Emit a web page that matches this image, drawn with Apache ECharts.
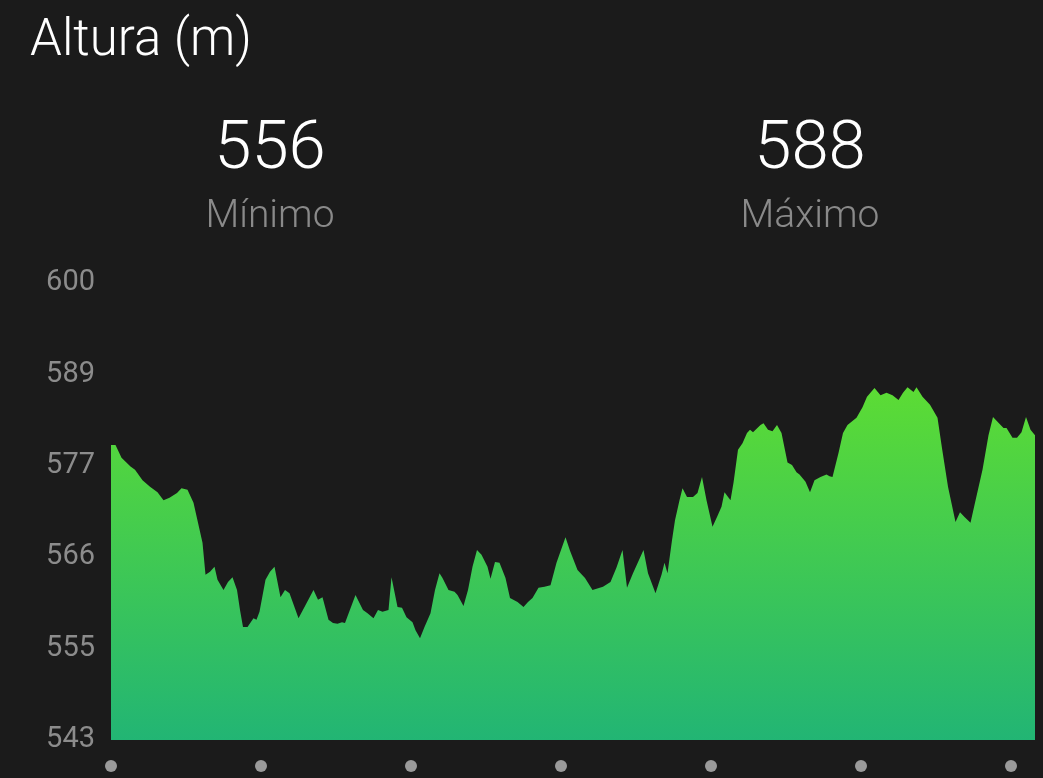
<!DOCTYPE html>
<html>
<head>
<meta charset="utf-8">
<script src="https://cdn.jsdelivr.net/npm/echarts@6/dist/echarts.min.js"></script>
<style>
html,body{margin:0;padding:0;background:#1b1b1b;}
#chart{width:1043px;height:778px;}
</style>
</head>
<body>
<div id="chart"></div>
<script>
// ---- data ----
const titleText = 'Altura (m)';
const minValue = 556;
const maxValue = 588;
const minLabel = 'Mínimo';
const maxLabel = 'Máximo';
const yTickLabels = ['543', '555', '566', '577', '589', '600'];
const yMin = 543;
const yMax = 600;
const xMax = 6.16;
// distance (km)
const distance = [
  0.00,0.03,0.07,0.13,0.16,0.21,0.26,0.31,0.35,0.39,0.44,0.47,0.51,0.55,0.58,0.61,0.63,0.66,0.69,0.71,
  0.75,0.78,0.81,0.84,0.86,0.88,0.91,0.95,0.97,0.99,1.03,1.06,1.09,1.13,1.16,1.19,1.25,1.29,1.35,1.38,
  1.41,1.45,1.48,1.51,1.54,1.56,1.63,1.68,1.71,1.75,1.78,1.81,1.85,1.87,1.91,1.94,1.97,2.01,2.03,2.06,
  2.09,2.13,2.16,2.19,2.21,2.25,2.29,2.31,2.35,2.38,2.41,2.44,2.47,2.51,2.53,2.56,2.59,2.63,2.66,2.71,
  2.75,2.78,2.81,2.85,2.89,2.93,2.97,3.03,3.06,3.11,3.16,3.21,3.28,3.33,3.37,3.41,3.44,3.48,3.55,3.58,
  3.63,3.67,3.69,3.71,3.74,3.76,3.79,3.81,3.84,3.88,3.91,3.94,3.97,4.01,4.04,4.07,4.09,4.13,4.15,4.18,
  4.21,4.24,4.26,4.28,4.33,4.35,4.38,4.41,4.44,4.47,4.51,4.54,4.57,4.59,4.63,4.66,4.69,4.73,4.77,4.79,
  4.81,4.85,4.88,4.91,4.97,5.01,5.04,5.09,5.13,5.17,5.21,5.25,5.28,5.31,5.35,5.37,5.41,5.46,5.51,5.54,
  5.58,5.63,5.66,5.69,5.73,5.76,5.81,5.85,5.88,5.91,5.95,5.97,6.01,6.04,6.07,6.10,6.13,6.16
];
// elevation (m)
const elevation = [
  579.8,579.8,578.2,577.1,576.7,575.4,574.6,573.9,572.9,573.2,573.8,574.4,574.2,572.6,570.1,567.6,563.6,564.0,564.6,563.0,
  561.7,562.7,563.3,561.7,559.2,557.1,557.1,558.2,558.0,559.0,563.0,564.0,564.6,560.8,561.7,561.3,558.2,559.6,561.7,560.5,
  560.8,558.0,557.6,557.5,557.7,557.6,561.1,559.2,558.8,558.2,559.2,559.0,559.2,563.3,559.6,559.5,558.3,557.7,556.7,555.7,
  557.1,558.8,561.7,563.8,563.2,561.7,561.5,561.1,559.7,561.7,564.6,566.7,566.1,564.6,563.1,565.2,565.1,563.2,560.7,560.2,
  559.6,560.2,560.7,562.0,562.1,562.3,565.1,568.3,566.6,564.2,563.2,561.7,562.1,562.7,564.5,566.7,562.0,563.8,566.7,563.8,
  561.3,563.6,565.1,563.8,567.9,570.4,572.9,574.4,573.3,573.3,573.8,575.8,572.9,569.6,570.8,572.1,573.9,572.9,575.1,579.2,
  580.0,581.3,581.7,581.4,582.3,582.5,581.7,581.5,582.3,581.3,577.6,577.3,576.4,576.1,575.2,573.9,575.4,575.8,576.1,575.9,
  575.8,578.8,581.3,582.3,583.2,584.5,585.8,586.9,586.0,586.3,586.0,585.4,586.3,587.0,586.4,587.0,585.8,584.8,583.2,579.4,
  574.6,570.2,571.4,570.8,570.1,572.6,576.7,581.0,583.3,582.7,581.9,581.9,580.7,580.7,581.4,583.3,581.7,581.0
];

const seriesData = distance.map((d, i) => [d, elevation[i]]);

const chart = echarts.init(document.getElementById('chart'), null, {renderer: 'canvas'});
const font = 'Roboto, "Noto Sans", sans-serif';

chart.setOption({
  backgroundColor: '#1b1b1b',
  animation: false,
  title: [
    {text: titleText, left: 25, top: 12,
     textStyle: {color: '#ffffff', fontSize: 51, fontWeight: 300, fontFamily: font}},
    {text: String(minValue), left: 265, top: 113, textAlign: 'center',
     textStyle: {color: '#ffffff', fontSize: 67, fontWeight: 300, fontFamily: font}},
    {text: minLabel, left: 265, top: 193, textAlign: 'center',
     textStyle: {color: '#8a8a8a', fontSize: 39, fontWeight: 300, fontFamily: font}},
    {text: String(maxValue), left: 805, top: 113, textAlign: 'center',
     textStyle: {color: '#ffffff', fontSize: 67, fontWeight: 300, fontFamily: font}},
    {text: maxLabel, left: 805, top: 193, textAlign: 'center',
     textStyle: {color: '#8a8a8a', fontSize: 39, fontWeight: 300, fontFamily: font}}
  ],
  grid: {left: 111, right: 8, top: 283, bottom: 38, containLabel: false},
  xAxis: {
    type: 'value', min: 0, max: xMax, interval: 1,
    axisLine: {show: false}, axisTick: {show: false}, splitLine: {show: false},
    axisLabel: {
      show: true, margin: 20, showMaxLabel: false,
      formatter: () => '{d|}',
      rich: {d: {width: 12, height: 12, borderRadius: 6, backgroundColor: '#9a9a9a'}}
    }
  },
  yAxis: [
    {type: 'value', min: yMin, max: yMax, show: false},
    {type: 'category', data: yTickLabels, boundaryGap: false, position: 'left',
     axisLine: {show: false}, axisTick: {show: false}, splitLine: {show: false},
     axisLabel: {color: '#8c8c8c', fontSize: 29, fontFamily: font, margin: 16, padding: [6, 0, 0, 0]}}
  ],
  series: [{
    type: 'line',
    yAxisIndex: 0,
    data: seriesData,
    symbol: 'none',
    lineStyle: {width: 0},
    areaStyle: {
      opacity: 1,
      color: new echarts.graphic.LinearGradient(0, 0, 0, 1, [
        {offset: 0, color: '#5cdc34'},
        {offset: 1, color: '#22b574'}
      ])
    }
  }]
});
</script>
</body>
</html>
